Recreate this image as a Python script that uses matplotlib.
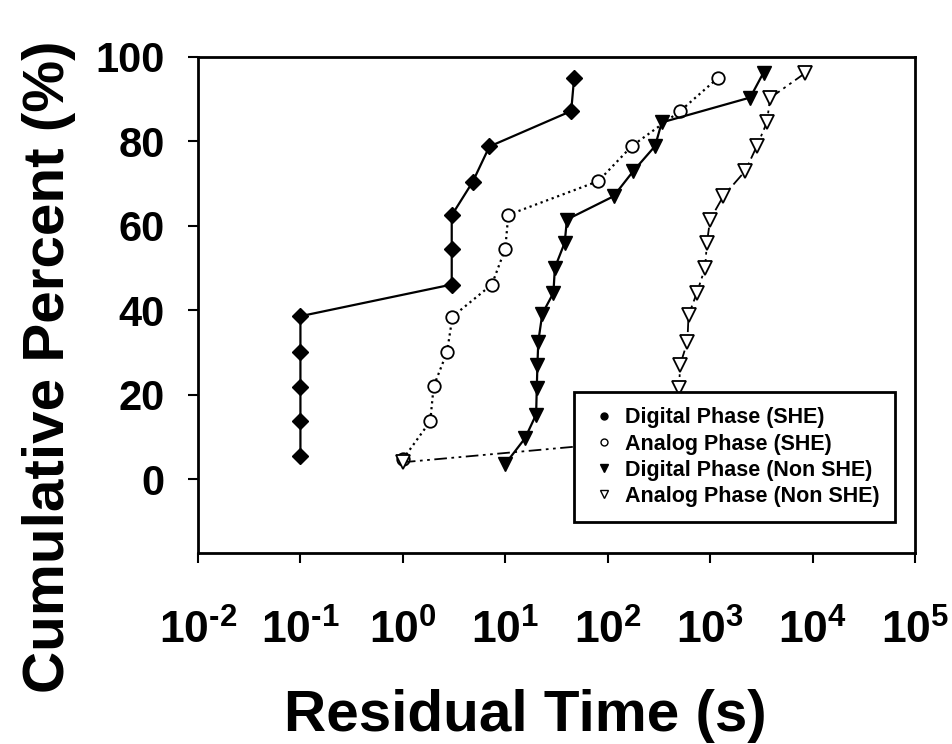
import matplotlib
matplotlib.use("Agg")
import matplotlib.pyplot as plt
from matplotlib.lines import Line2D

plt.rcParams['font.family'] = ['Liberation Sans', 'DejaVu Sans']
plt.rcParams['font.weight'] = 'bold'
plt.rcParams['mathtext.fontset'] = 'custom'
plt.rcParams['mathtext.rm'] = 'Liberation Sans:bold'
plt.rcParams['mathtext.bf'] = 'Liberation Sans:bold'
plt.rcParams['mathtext.default'] = 'bf'

# values (residual time in s, cumulative percent)
digital_she_time = [0.1, 0.1, 0.1, 0.1, 0.1, 3, 3, 3, 4.8, 7, 44, 47]
digital_she_pct = [5.4, 13.7, 21.8, 30.1, 38.6, 46.1, 54.6, 62.5, 70.4, 78.8, 87.2, 95.1]

analog_she_time = [1.0, 1.85, 2.0, 2.7, 3.05, 7.4, 10, 10.7, 81, 172, 510, 1200]
analog_she_pct = [4.7, 13.7, 22.0, 30.1, 38.5, 46.1, 54.6, 62.6, 70.6, 78.9, 87.2, 95.1]

digital_nonshe_time = [10, 15.6, 20, 20.3, 20.6, 21, 23, 29.5, 30.5, 38, 40,
                       114, 178, 290, 337, 2460, 3320]
digital_nonshe_pct = [3.6, 9.7, 15.3, 21.6, 27.1, 32.6, 39.2, 44.1, 50.1, 56.0,
                      61.5, 67.0, 73.0, 78.9, 84.5, 90.4, 96.3]

analog_nonshe_time = [1.0, 440, 490, 498, 509, 600, 615, 741, 894, 929, 1000,
                      1350, 2200, 2860, 3580, 3855, 8470]
analog_nonshe_pct = [4.0, 9.8, 15.5, 21.6, 27.0, 32.6, 38.8, 44.1, 50.1, 55.9,
                     61.5, 67.1, 73.0, 78.9, 84.5, 90.3, 96.2]

legend_labels = ['Digital Phase (SHE)', 'Analog Phase (SHE)',
                 'Digital Phase (Non SHE)', 'Analog Phase (Non SHE)']
x_ticks = [1e-2, 1e-1, 1e0, 1e1, 1e2, 1e3, 1e4, 1e5]
x_tick_labels = [r'$10^{\text{-}2}$', r'$10^{\text{-}1}$', r'$10^{0}$', r'$10^{1}$',
                 r'$10^{2}$', r'$10^{3}$', r'$10^{4}$', r'$10^{5}$']
y_ticks = [0, 20, 40, 60, 80, 100]

fig = plt.figure(figsize=(9.53, 7.44), dpi=100)
ax = fig.add_axes([198 / 953, 1 - 553 / 744, 717 / 953, 496 / 744])

ax.plot(digital_she_time, digital_she_pct, '-', color='black', lw=1.6,
        marker='D', ms=8, mfc='black', mec='black')
ax.plot(analog_she_time, analog_she_pct, ':', color='black', lw=1.6,
        marker='o', ms=9, mfc='white', mec='black', mew=1.3)
ax.plot(digital_nonshe_time, digital_nonshe_pct, '-', color='black', lw=1.6,
        marker='v', ms=10, mfc='black', mec='black')
ax.plot(analog_nonshe_time, analog_nonshe_pct, color='black', lw=1.3,
        dashes=(7, 2.5, 1.5, 2.5, 1.5, 2.5),
        marker='v', ms=10, mfc='white', mec='black', mew=1.3)

ax.set_xscale('log')
ax.set_xlim(1e-2, 1e5)
ax.set_ylim(-17.5, 100)
ax.set_xticks(x_ticks)
ax.set_xticklabels(x_tick_labels)
ax.minorticks_off()
ax.set_yticks(y_ticks)

for s in ax.spines.values():
    s.set_linewidth(2)
ax.tick_params(axis='both', direction='out', length=7, width=1.5)
ax.tick_params(axis='x', labelsize=32, pad=34)
ax.tick_params(axis='y', labelsize=30, pad=17)

ax.set_xlabel('Residual Time (s)', fontsize=42, fontweight='bold')
ax.set_ylabel('Cumulative Percent (%)', fontsize=42, fontweight='bold')
ax.xaxis.set_label_coords(0.457, -0.275)
ax.yaxis.set_label_coords(-0.17, 0.375)

handles = [
    Line2D([], [], ls='none', marker='o', ms=5, mfc='black', mec='black'),
    Line2D([], [], ls='none', marker='o', ms=5, mfc='white', mec='black'),
    Line2D([], [], ls='none', marker='v', ms=6, mfc='black', mec='black'),
    Line2D([], [], ls='none', marker='v', ms=6, mfc='white', mec='black'),
]
leg = ax.legend(handles, legend_labels, loc='lower right',
                bbox_to_anchor=(0.972, 0.0625), borderaxespad=0, fontsize=15.5,
                frameon=True, fancybox=False, framealpha=1,
                edgecolor='black', labelspacing=0.24, handletextpad=0.3,
                borderpad=0.7, handlelength=1.4)
leg.get_frame().set_linewidth(2)
for t in leg.get_texts():
    t.set_fontweight('bold')

fig.savefig('out.png', dpi=100)
